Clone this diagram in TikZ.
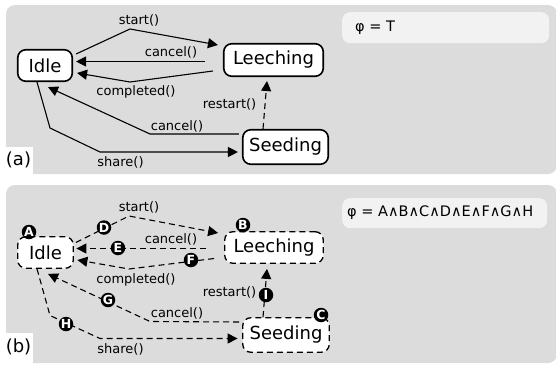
\documentclass[tikz,border=0pt]{standalone}
\usepackage{fontspec}
\setmainfont{DejaVu Sans}
\usetikzlibrary{arrows.meta,calc}
\definecolor{panelgray}{RGB}{220,220,220}
\definecolor{phigray}{RGB}{242,242,242}
\begin{document}
\begin{tikzpicture}[x=1pt,y=-1pt,
  state/.style={draw=black,line width=1.6pt,fill=white,rounded corners=8pt,inner sep=0pt,font=\fontsize{18}{20}\selectfont},
  dstate/.style={state,line width=1.3pt,dash pattern=on 6pt off 4pt},
  edge/.style={line width=1.1pt,-{Triangle[length=10pt,width=10pt]}},
  dedge/.style={edge,dash pattern=on 6pt off 4pt},
  lbl/.style={font=\fontsize{13}{14}\selectfont,inner sep=0pt},
  badge/.style={circle,fill=black,text=white,inner sep=0pt,minimum size=14.5pt,font=\fontsize{12.5}{12.5}\selectfont\bfseries},
  panel/.style={fill=panelgray,rounded corners=9pt},
  phibox/.style={fill=phigray,rounded corners=8pt,inner sep=0pt},
  phitext/.style={font=\fontsize{14.5}{16}\selectfont,inner sep=0pt,anchor=west},
  tag/.style={font=\fontsize{18}{20}\selectfont,inner sep=0pt}
]
\useasboundingbox (0,0) rectangle (556,369);
% panels
\fill[panel] (6,5) rectangle (557,174);
\fill[panel] (6,185) rectangle (557,363);
\fill[white] (0,147) rectangle (33,175);
\fill[white] (0,333) rectangle (33,364);
\node[tag] (tagA) at (18.5,160) {(a)};
\node[tag] (tagB) at (18.5,347) {(b)};
% phi boxes
\node[phibox,anchor=north west,minimum width=207pt,minimum height=31pt] (phiA) at (342,12) {};
\node[phitext] (phiAt) at (355,27.5) {φ = T};
\node[phibox,anchor=north west,minimum width=205pt,minimum height=30pt] (phiB) at (342,198) {};
\node[phitext] (phiBt) at (347,213) {φ = A∧B∧C∧D∧E∧F∧G∧H};

% ---------- panel (a)
\node[state,minimum width=54.5pt,minimum height=31.5pt] (idle) at (45,65.5) {Idle};
\node[state,minimum width=99.5pt,minimum height=32.5pt] (leech) at (273.5,60) {Leeching};
\node[state,minimum width=85.5pt,minimum height=34.5pt] (seed) at (285.5,147) {Seeding};
\coordinate (sA) at (130,29);
\coordinate (cA) at (130,82);
\coordinate (gA) at (150,134);
\coordinate (h1A) at (50,128);
\coordinate (h2A) at (100,152);
\draw[edge] ($(idle.east)+(3,-11.5)$) -- (sA) -- ($(leech.west)+(-5,-15)$);
\draw[edge] ($(leech.west)+(-18,1.5)$) -- ($(idle.east)+(3,-4)$);
\draw[edge] ($(leech.west)+(-10,11)$) -- (cA) -- ($(idle.east)+(4,7.5)$);
\draw[edge] ($(seed.west)+(-3,-13)$) -- (gA) -- ($(idle.south)+(3,5)$);
\draw[edge] ($(idle.south)+(-8,0)$) -- (h1A) -- (h2A) -- ($(seed.west)+(-4,5)$);
\draw[dedge] ($(seed.north)+(-22.5,0)$) -- ($(leech.south)+(-6.5,4)$);
\node[lbl] (la1) at (139,20) {start()};
\node[lbl] (la2) at (171,52.5) {cancel()};
\node[lbl] (la3) at (136,92) {completed()};
\node[lbl] (la4) at (229.5,104.5) {restart()};
\node[lbl] (la5) at (177,126.5) {cancel()};
\node[lbl] (la6) at (120.5,162.5) {share()};

% ---------- panel (b)
\node[dstate,minimum width=55.5pt,minimum height=31.5pt] (idleB) at (45.5,252.5) {Idle};
\node[dstate,minimum width=98.5pt,minimum height=31.5pt] (leechB) at (274,247.5) {Leeching};
\node[dstate,minimum width=86.5pt,minimum height=34.5pt] (seedB) at (286,335) {Seeding};
\coordinate (sB) at (129,216);
\coordinate (cB) at (129,269);
\coordinate (gB) at (150,321.5);
\coordinate (h1B) at (50,315.5);
\coordinate (h2B) at (100,338.5);
\draw[dedge] ($(idleB.east)+(2,-10)$) -- (sB) -- ($(leechB.west)+(-6,-14.5)$);
\draw[dedge] ($(leechB.west)+(-18,1)$) -- ($(idleB.east)+(2.5,-4)$);
\draw[dedge] ($(leechB.west)+(-10,11)$) -- (cB) -- ($(idleB.east)+(3.5,7.5)$);
\draw[dedge] ($(seedB.west)+(-3,-13)$) -- (gB) -- ($(idleB.south)+(2.5,5)$);
\draw[dedge] ($(idleB.south)+(-8.5,0)$) -- (h1B) -- (h2B) -- ($(seedB.west)+(-4.5,3.5)$);
\draw[dedge] ($(seedB.north)+(-23,0)$) -- ($(leechB.south)+(-7,5)$);
\node[lbl] (lb1) at (139,207) {start()};
\node[lbl] (lb2) at (171,239.5) {cancel()};
\node[lbl] (lb3) at (136,279.5) {completed()};
\node[lbl] (lb4) at (229.5,292) {restart()};
\node[lbl] (lb5) at (177,313.5) {cancel()};
\node[lbl] (lb6) at (120.5,349.5) {share()};
% badges
\node[badge] (bA) at (29,232) {A};
\node[badge] (bB) at (243,225) {B};
\node[badge] (bC) at (321,315) {C};
\node[badge] (bD) at (104,227.5) {D};
\node[badge] (bE) at (118,248) {E};
\node[badge] (bF) at (191,260) {F};
\node[badge] (bG) at (108,300) {G};
\node[badge] (bH) at (66,324) {H};
\node[badge] (bI) at (266,295) {I};
\end{tikzpicture}
\end{document}
